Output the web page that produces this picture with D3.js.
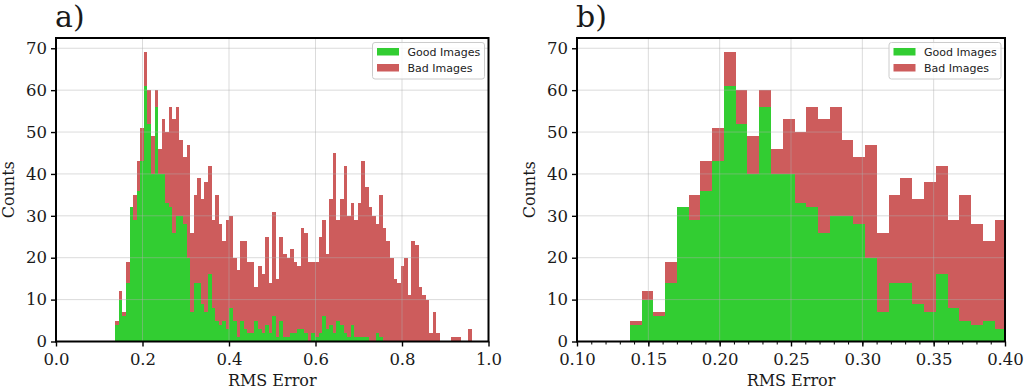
<!DOCTYPE html>
<html><head><meta charset="utf-8">
<script src="https://cdn.jsdelivr.net/npm/d3@7"></script>
<style>body{margin:0;background:#fff} svg{display:block}</style>
</head><body>
<svg id="chart" width="1024" height="389"></svg>
<script>
// ---- data ----
const binStart = 0.137, binEnd = 0.962, binCount = 100;
const goodCounts = [
  4,10,6,14,32,29,36,43,61,52,40,56,40,40,33,32,26,30,30,28,20,7,14,14,9,7,16,8,5,4,5,3,
  8,5,1,5,3,2,2,5,3,2,4,2,6,1,5,1,1,
  2,2,3,3,2,0,2,1,2,6,3,4,2,5,4,2,1,4,
  1,1,1,1,0,0,2,1,0,0,0,0,0,0,0,0,0,
  0,0,0,0,0,0,0,0,0,0,0,0,0,0,0,0
];
const badCounts = [
  1,2,1,5,0,6,7,8,8,8,9,4,6,13,17,24,27,26,18,16,27,19,21,25,25,31,26,21,30,24,19,26,
  22,15,16,19,21,17,17,8,15,14,21,12,25,14,20,20,19,
  20,17,15,24,24,19,17,18,23,23,18,30,43,24,30,40,29,29,
  28,32,42,36,32,30,26,34,27,24,20,15,14,18,20,11,24,
  23,13,11,10,2,7,2,0,0,0,1,1,1,0,0,3
];
const seriesNames = ["Good Images", "Bad Images"];
const seriesColors = ["#32cd32", "#cd5c5c"];
const yTicks = [0, 10, 20, 30, 40, 50, 60, 70];
const xTicksA = [0.0, 0.2, 0.4, 0.6, 0.8, 1.0];
const xTicksB = [0.10, 0.15, 0.20, 0.25, 0.30, 0.35, 0.40];
const yMax = 72.45;

// ---- layout ----
const panels = [
  {label: "a)", left: 56, right: 488.5, domain: [0, 1], ticks: xTicksA, fmt: d3.format(".1f"), minorStep: null},
  {label: "b)", left: 577, right: 1005, domain: [0.1, 0.4], ticks: xTicksB, fmt: d3.format(".2f"), minorStep: 0.01}
];
const plotTop = 38, plotBottom = 341.5;
const serif = "'DejaVu Serif', serif";
const sans = "'DejaVu Sans', sans-serif";

const svg = d3.select("#chart");
const binW = (binEnd - binStart) / binCount;
const bins = goodCounts.map((g, i) => ({x0: binStart + i * binW, x1: binStart + (i + 1) * binW, good: g, bad: badCounts[i]}));

panels.forEach((p, pi) => {
  const x = d3.scaleLinear().domain(p.domain).range([p.left, p.right]);
  const y = d3.scaleLinear().domain([0, yMax]).range([plotBottom, plotTop]);
  const g = svg.append("g");
  const clipId = "clip" + pi;
  svg.append("defs").append("clipPath").attr("id", clipId)
    .append("rect").attr("x", p.left).attr("y", plotTop).attr("width", p.right - p.left).attr("height", plotBottom - plotTop);

  const bars = g.append("g").attr("clip-path", `url(#${clipId})`).attr("shape-rendering", "crispEdges");
  bars.selectAll("rect.good").data(bins.filter(b => b.good > 0)).join("rect")
    .attr("x", d => x(d.x0)).attr("width", d => x(d.x1) - x(d.x0))
    .attr("y", d => y(d.good)).attr("height", d => y(0) - y(d.good))
    .attr("fill", seriesColors[0]);
  bars.selectAll("rect.bad").data(bins.filter(b => b.bad > 0)).join("rect")
    .attr("x", d => x(d.x0)).attr("width", d => x(d.x1) - x(d.x0))
    .attr("y", d => y(d.good + d.bad)).attr("height", d => y(d.good) - y(d.good + d.bad))
    .attr("fill", seriesColors[1]);

  // grid
  const grid = g.append("g").attr("stroke", "#b0b0b0").attr("stroke-opacity", 0.45).attr("stroke-width", 1);
  grid.selectAll("line.v").data(p.ticks).join("line")
    .attr("x1", d => x(d)).attr("x2", d => x(d)).attr("y1", plotTop).attr("y2", plotBottom);
  grid.selectAll("line.h").data(yTicks).join("line")
    .attr("x1", p.left).attr("x2", p.right).attr("y1", d => y(d)).attr("y2", d => y(d));

  // axes
  const xAxis = d3.axisBottom(x).tickValues(p.ticks).tickFormat(p.fmt).tickSize(5).tickPadding(4);
  const ax = g.append("g").attr("transform", `translate(0,${plotBottom})`).call(xAxis);
  if (p.minorStep) {
    const minor = d3.range(Math.round((p.domain[1] - p.domain[0]) / p.minorStep) + 1).map(i => p.domain[0] + i * p.minorStep);
    g.append("g").attr("transform", `translate(0,${plotBottom})`)
      .call(d3.axisBottom(x).tickValues(minor).tickFormat("").tickSize(3))
      .call(s => s.select(".domain").remove())
      .selectAll("line").attr("stroke", "#000").attr("stroke-width", 1);
  }
  const yAxis = d3.axisLeft(y).tickValues(yTicks).tickSize(5).tickPadding(4);
  const ay = g.append("g").attr("transform", `translate(${p.left},0)`).call(yAxis);
  [ax, ay].forEach(a => {
    a.select(".domain").remove();
    a.selectAll(".tick line").attr("stroke", "#000").attr("stroke-width", 1.4);
    a.selectAll(".tick text").attr("font-family", serif).attr("font-size", 16.5).attr("fill", "#1a1a1a");
  });
  ax.selectAll(".tick text").attr("dy", "0.85em");

  // frame
  g.append("rect").attr("x", p.left).attr("y", plotTop).attr("width", p.right - p.left).attr("height", plotBottom - plotTop)
    .attr("fill", "none").attr("stroke", "#000").attr("stroke-width", 2);

  // labels
  g.append("text").attr("x", (p.left + p.right) / 2).attr("y", 386).attr("text-anchor", "middle")
    .attr("font-family", serif).attr("font-size", 16).attr("fill", "#1a1a1a").text("RMS Error");
  g.append("text").attr("transform", `translate(${p.left - 42},${(plotTop + plotBottom) / 2}) rotate(-90)`)
    .attr("text-anchor", "middle").attr("font-family", serif).attr("font-size", 16).attr("fill", "#1a1a1a").text("Counts");
  g.append("text").attr("x", p.left - 1).attr("y", 27).attr("font-family", serif).attr("font-size", 30)
    .attr("fill", "#1a1a1a").text(p.label);

  // legend
  const lw = 112, lh = 36.5;
  const lx = p.right - 4 - lw, ly = plotTop + 4.5;
  const leg = g.append("g");
  leg.append("rect").attr("x", lx).attr("y", ly).attr("width", lw).attr("height", lh).attr("rx", 2.5)
    .attr("fill", "#fff").attr("fill-opacity", 0.8).attr("stroke", "#cccccc").attr("stroke-width", 1);
  seriesNames.forEach((name, i) => {
    leg.append("rect").attr("x", lx + 4.5).attr("y", ly + 5.5 + i * 16).attr("width", 22).attr("height", 7.5)
      .attr("fill", seriesColors[i]);
    leg.append("text").attr("x", lx + 35).attr("y", ly + 13.5 + i * 16).attr("font-family", sans)
      .attr("font-size", 11).attr("fill", "#222").text(name);
  });
});
</script>
</body></html>
